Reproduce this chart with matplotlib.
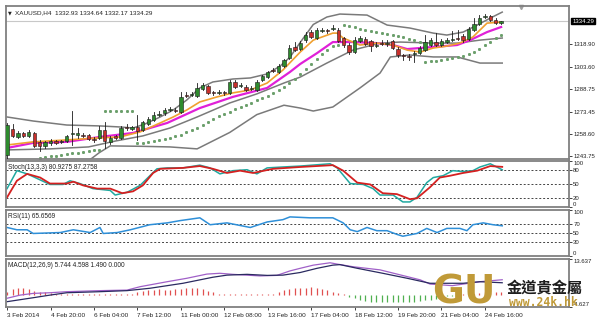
import matplotlib
matplotlib.use("Agg")
import matplotlib.pyplot as plt
from matplotlib.patches import Rectangle

# ---------------- data ----------------
opens = [1244.4, 1261.9, 1256.5, 1259.2, 1257.2, 1259.2, 1253.2, 1250.5, 1252.5, 1253.8,
         1253.2, 1253.8, 1258.6, 1257.9, 1257.9, 1257.9, 1255.2, 1255.9, 1261.2, 1253.2,
         1257.2, 1255.9, 1263.2, 1261.9, 1263.2, 1261.2, 1265.2, 1267.9, 1271.3, 1272.6,
         1274.6, 1274.6, 1273.3, 1284.7, 1284.7, 1284.0, 1288.7, 1290.7, 1286.7, 1286.1,
         1286.7, 1286.1, 1293.4, 1290.7, 1290.0, 1288.7, 1288.0, 1294.7, 1296.7, 1301.4,
         1300.1, 1304.1, 1309.5, 1316.9, 1315.5, 1321.5, 1326.9, 1322.9, 1327.6, 1328.3,
         1328.9, 1328.3, 1322.9, 1318.2, 1313.5, 1320.9, 1322.2, 1320.9, 1317.5, 1319.5,
         1318.9, 1320.9, 1315.5, 1311.5, 1310.8, 1312.2, 1312.8, 1314.8, 1318.2, 1320.2,
         1318.2, 1320.2, 1321.5, 1322.9, 1324.2, 1322.2, 1328.3, 1332.3, 1337.0, 1337.6,
         1335.0, 1332.93]
highs = [1265.9, 1265.2, 1260.5, 1259.9, 1261.2, 1259.9, 1254.5, 1253.8, 1255.2, 1254.5,
         1254.5, 1257.9, 1274.0, 1262.5, 1259.2, 1258.6, 1256.5, 1263.9, 1266.6, 1257.2,
         1257.9, 1263.9, 1265.2, 1263.9, 1271.3, 1267.2, 1269.9, 1273.3, 1274.0, 1276.0,
         1276.6, 1276.0, 1286.7, 1286.7, 1286.7, 1292.7, 1292.7, 1291.4, 1287.4, 1288.0,
         1287.4, 1294.7, 1294.7, 1292.7, 1291.4, 1290.7, 1294.7, 1298.1, 1300.8, 1302.8,
         1305.5, 1308.8, 1318.2, 1320.2, 1320.9, 1326.9, 1328.3, 1329.6, 1329.6, 1328.9,
         1331.6, 1329.6, 1323.6, 1319.5, 1323.6, 1324.2, 1323.6, 1321.5, 1320.2, 1321.5,
         1321.5, 1321.5, 1316.9, 1312.2, 1312.2, 1314.2, 1317.5, 1324.9, 1322.9, 1326.2,
         1322.2, 1322.9, 1327.6, 1328.3, 1325.6, 1330.3, 1336.3, 1338.3, 1339.0, 1338.3,
         1336.3, 1334.64]
lows = [1241.1, 1256.5, 1255.9, 1256.5, 1256.5, 1249.8, 1247.1, 1249.1, 1251.1, 1251.8,
        1252.5, 1253.2, 1251.1, 1255.9, 1256.5, 1254.5, 1253.2, 1255.2, 1249.1, 1251.8,
        1255.2, 1255.2, 1261.2, 1261.2, 1254.5, 1260.5, 1264.5, 1267.2, 1270.6, 1271.3,
        1274.0, 1273.3, 1272.6, 1283.4, 1284.0, 1283.4, 1288.0, 1285.4, 1284.7, 1285.4,
        1284.7, 1285.4, 1289.4, 1290.0, 1287.4, 1288.0, 1287.4, 1294.1, 1296.1, 1300.1,
        1299.4, 1303.4, 1308.8, 1314.2, 1314.8, 1320.2, 1322.9, 1322.2, 1326.9, 1326.2,
        1328.3, 1320.2, 1316.9, 1312.2, 1312.8, 1320.2, 1318.2, 1314.2, 1316.9, 1318.2,
        1317.5, 1315.5, 1310.2, 1308.1, 1308.1, 1306.8, 1312.2, 1314.2, 1317.5, 1317.5,
        1317.5, 1319.5, 1320.9, 1321.5, 1320.2, 1321.5, 1327.6, 1331.6, 1336.3, 1334.3,
        1332.3, 1332.17]
closes = [1264.5, 1257.2, 1259.2, 1257.2, 1259.9, 1250.5, 1250.5, 1253.2, 1253.8, 1252.5,
          1253.8, 1257.2, 1259.2, 1259.2, 1257.2, 1255.2, 1254.5, 1261.2, 1253.8, 1255.9,
          1255.9, 1262.5, 1262.5, 1263.2, 1260.5, 1266.6, 1268.6, 1271.3, 1271.9, 1274.6,
          1275.3, 1274.0, 1283.4, 1284.0, 1285.4, 1289.4, 1291.4, 1286.1, 1286.1, 1286.7,
          1286.1, 1293.4, 1290.0, 1291.4, 1288.0, 1289.4, 1293.4, 1297.4, 1300.1, 1300.8,
          1304.1, 1308.1, 1316.2, 1314.8, 1319.5, 1324.9, 1323.6, 1328.3, 1328.3, 1327.6,
          1329.6, 1320.9, 1318.2, 1313.5, 1321.5, 1322.9, 1318.9, 1317.5, 1318.2, 1318.9,
          1319.5, 1316.2, 1311.5, 1310.8, 1310.2, 1312.8, 1316.2, 1320.2, 1321.5, 1318.2,
          1320.9, 1321.5, 1322.2, 1322.2, 1321.5, 1328.9, 1332.3, 1336.3, 1337.6, 1335.0,
          1332.9, 1334.29]

# moving averages (bar index, price)
ema_x = [0, 4.8, 11, 17.1, 20.8, 24.5, 28.2, 30.6, 33.1, 35.5, 38.7, 41.6, 44.8, 47.9, 50.8,
         54, 56.4, 60, 60.8, 61.9, 65, 68.1, 71.1, 73.7, 76.1, 78.5, 81, 83.4, 85.8, 88.4, 91]
ema_y = [1251.1, 1253.2, 1254.5, 1255.9, 1256.5, 1259.9, 1265.9, 1269.9, 1274.6, 1280.0,
         1283.4, 1286.1, 1288.0, 1292.7, 1301.4, 1313.5, 1321.5, 1326.2, 1326.2, 1322.9,
         1318.2, 1319.5, 1318.2, 1314.8, 1313.5, 1316.2, 1317.5, 1319.5, 1323.6, 1332.9, 1333.6]
sma_x = [0, 4.8, 11, 17.1, 23.2, 29.5, 35.5, 41.6, 47.9, 52.1, 54, 57.1, 60, 63.7, 68.1,
         71.1, 73.7, 76.1, 78.5, 82.9, 85.3, 88.4, 91]
sma_y = [1249.1, 1252.5, 1253.2, 1256.5, 1259.2, 1265.9, 1275.9, 1283.4, 1289.4, 1300.1,
         1305.5, 1312.8, 1320.2, 1320.2, 1319.5, 1318.2, 1315.5, 1316.2, 1316.9, 1318.2,
         1321.5, 1326.9, 1330.3]

# Bollinger bands (bar index, price)
bbu_x = [0, 4.8, 11, 17.1, 20.8, 23.2, 25.4, 28.2, 30.6, 33.1, 35.5, 37.9, 41.6, 44.8, 47.9,
         50.3, 52.1, 54, 56.4, 58.9, 61.3, 66.3, 70, 74.2, 78.5, 81, 84, 86.6, 89, 91.2]
bbu_y = [1269.9, 1267.2, 1264.5, 1263.9, 1263.2, 1262.5, 1265.2, 1269.9, 1274.6, 1281.3,
         1289.4, 1293.4, 1295.4, 1296.1, 1298.8, 1304.1, 1310.0, 1320.0, 1332.0, 1337.0,
         1339.0, 1338.3, 1331.6, 1329.6, 1326.2, 1324.9, 1326.9, 1331.6, 1336.3, 1340.3]
bbm_x = [0, 8, 15, 20, 25, 30, 35, 41, 46, 51, 54, 58.9, 63.7, 68.7, 72.4, 78.5, 82.9,
         87.1, 91.2]
bbm_y = [1247.8, 1248.5, 1249.8, 1253.8, 1257.2, 1262.5, 1269.9, 1279.3, 1285.4, 1292.7,
         1296.7, 1306.1, 1314.8, 1319.5, 1320.2, 1319.5, 1319.5, 1321.5, 1322.9]
bbl_x = [15, 17, 19, 25, 30, 35, 41, 46, 51, 54, 56.4, 60, 65, 68.7, 70.6, 74.2, 78.5,
         82.9, 87.1, 91.2]
bbl_y = [1240.5, 1246.0, 1250.5, 1250.2, 1249.8, 1248.5, 1259.5, 1271.5, 1277.8, 1275.9,
         1273.9, 1276.6, 1289.4, 1299.4, 1310.2, 1311.5, 1310.2, 1310.2, 1306.1, 1306.1]

# Parabolic SAR dots (bar index, price)
sar_x = list(range(6, 92))
sar_y = [1242.5, 1243.0, 1243.5, 1244.0, 1244.5, 1245.0, 1245.5, 1246.0, 1246.5, 1247.0,
         1247.5, 1248.0,
         1274.0, 1274.0, 1274.0, 1274.0, 1274.0, 1274.0,
         1252.5, 1252.5, 1253.0, 1253.5, 1254.2, 1255.0, 1256.0, 1257.0, 1258.0, 1259.5,
         1261.0, 1262.5, 1264.5, 1266.5, 1268.5, 1270.5, 1272.0, 1273.5, 1275.0, 1276.5,
         1278.0, 1279.5, 1281.0, 1282.5, 1284.0, 1286.0, 1288.0, 1290.0, 1292.5, 1295.5,
         1298.5, 1302.0, 1305.5, 1309.0, 1312.0, 1315.0, 1317.5, 1318.5,
         1331.6, 1331.0, 1330.0, 1329.0, 1328.2, 1327.4, 1326.8, 1326.2, 1325.5, 1324.9,
         1324.3, 1323.5, 1322.5, 1321.5, 1320.5,
         1306.8, 1307.3, 1307.8, 1308.3, 1308.9, 1309.5, 1310.2, 1311.0, 1312.0, 1313.5,
         1315.5, 1318.0, 1320.5, 1323.0, 1325.0]

# Stochastic (bar index, value)
stk_x = [0, 1.8, 3.7, 7.9, 10.3, 11.6, 13.4, 15.8, 19, 19.9, 22.1, 24.5, 26.3, 27.6, 29.5,
         32.4, 35.5, 37.4, 39.2, 41.6, 44.2, 46, 47.9, 50.8, 54, 59.5, 60.8, 63.2, 65.6, 67.4,
         68.7, 71.1, 72.9, 74.2, 75.5, 77.3, 78.5, 80.3, 82.1, 84, 85.8, 87.1, 89, 91.2]
stk_y = [40, 79, 72, 49, 49, 57, 51, 40, 36, 26, 32, 47, 68, 83, 85, 85, 91, 85, 72, 79,
         81, 72, 85, 87, 89, 94, 85, 51, 49, 40, 26, 26, 11, 11, 21, 53, 64, 68, 79, 77,
         79, 87, 94, 80.93]
std_x = [0, 1.8, 3.7, 6.1, 7.9, 11, 12.2, 14, 16.6, 19, 21.2, 23.2, 25, 26.9, 28.2, 32.4,
         35.5, 37.9, 40.5, 42.9, 45.3, 49, 54, 60, 61.9, 64.5, 66.9, 69.2, 71.8, 74.2, 75.5,
         77.9, 79.7, 81.6, 84, 86.6, 89, 91.2]
std_y = [21, 57, 72, 64, 51, 51, 55, 47, 40, 40, 30, 34, 47, 74, 83, 85, 89, 83, 74, 79,
         74, 83, 87, 91, 79, 53, 49, 30, 28, 17, 19, 43, 64, 68, 74, 79, 89, 87.28]

# RSI (bar index, value)
rsi_x = [0, 1.8, 3.7, 4.8, 9.8, 12.2, 15.3, 17.1, 17.7, 20.3, 22.7, 26.3, 29.5, 31.9, 35.5,
         37.4, 40.5, 44.8, 47.9, 50.8, 52.1, 54, 55.8, 60, 61.9, 63.2, 64.5, 66.3, 68.1, 70,
         71.8, 72.9, 75.5, 77.3, 79.2, 81, 83.4, 84.7, 85.8, 87.7, 89.5, 91.2]
rsi_y = [62, 57, 57, 49, 51, 57, 51, 62, 49, 51, 57, 68, 72, 77, 83, 68, 72, 62, 74, 79,
         85, 84, 83, 83, 72, 57, 53, 62, 55, 55, 47, 43, 49, 60, 51, 60, 60, 55, 68, 72,
         68, 65.66]

# MACD (bar index, value)
macd_x = [0, 2.4, 4.8, 7.9, 11, 17.1, 22.1, 24.5, 29.5, 33.1, 36.8, 39.2, 41.6, 46.6, 49.7,
          52.1, 54, 56.4, 59.5, 60.8, 63.7, 68.7, 72.4, 76.1, 77.9, 82, 87.1, 91.2]
macd_y = [-1.3, -0.1, 0.55, 0.8, 1.2, 1.6, 1.8, 3.1, 5.0, 6.3, 7.9, 8.2, 7.8, 7.2, 7.4,
          9.1, 10.1, 11.3, 12.2, 11.7, 10.7, 9.5, 7.6, 5.7, 4.1, 3.5, 5.0, 5.744]
sig_x = [0, 4.8, 7.9, 11, 17.1, 22.1, 26.3, 32.4, 37.9, 40.5, 44.2, 47.9, 50.8, 54, 57.1,
         60, 61.3, 64.5, 69.2, 73.7, 77.9, 84, 87.1, 91.2]
sig_y = [-2.6, -1.1, -0.1, 0.8, 1.2, 1.6, 2.5, 4.4, 6.7, 7.5, 7.8, 7.4, 7.5, 8.5, 10.1,
         11.3, 11.5, 10.1, 8.2, 6.3, 4.4, 4.4, 5.0, 4.598]
hist = [1.2, 2.2, 2.7, 2.5, 2.2, 1.6, 1.2, 0.9, 0.8, 0.3, 0.3, 0.3, 0.3, 0.3, 0.3, 0.2,
        0.2, 0.2, 0.2, 0.2, 0.2, 0.3, 0.3, 0.5, 1.2, 1.5, 1.8, 2.0, 2.2, 2.0, 1.8, 2.2,
        2.4, 2.5, 2.6, 2.7, 2.2, 1.6, 0.9, 0.3, 0.2, 0.2, 0.2, 0.2, 0.2, 0.2, 0.2, 0.2,
        0.3, 0.5, 1.2, 1.8, 2.2, 2.5, 2.5, 2.7, 2.8, 2.7, 2.2, 1.8, 1.2, 0.55, 0.2, -0.8,
        -1.3, -2.0, -2.5, -2.8, -2.9, -2.9, -2.9, -2.9, -2.9, -2.9, -2.7, -2.6, -2.4, -2.0,
        -1.8, -1.5, -1.0, -0.6, -0.3, 0.1, 0.2, 0.3, 0.4, 0.55, 1.2, 1.2, 0.9, 0.9]

x_tick_pos = [0, 8, 16, 24, 32, 40, 48, 56, 64, 72, 80, 88]
x_tick_lbl = ["3 Feb 2014", "4 Feb 20:00", "6 Feb 04:00", "7 Feb 12:00", "11 Feb 00:00",
              "12 Feb 08:00", "13 Feb 16:00", "17 Feb 04:00", "18 Feb 12:00",
              "19 Feb 20:00", "21 Feb 04:00", "24 Feb 16:00"]
price_ticks = [1318.90, 1303.60, 1288.75, 1273.45, 1258.60, 1243.75]
last_price = 1334.29

# ---------------- figure ----------------
W, H = 600, 323
fig = plt.figure(figsize=(6.0, 3.23), dpi=100)
FONT = "Liberation Sans"
plt.rcParams["font.family"] = [FONT, "DejaVu Sans"]
GRID = "#808080"


def panel(x0, y0, x1, y1):
    a = fig.add_axes([x0 / W, 1 - y1 / H, (x1 - x0) / W, (y1 - y0) / H])
    a.set_xlim(-0.2, 103.5)
    for s in a.spines.values():
        s.set_color(GRID)
        s.set_linewidth(1.3)
    a.set_xticks([])
    a.yaxis.tick_right()
    a.tick_params(axis="y", length=2, width=0.6, pad=1, labelsize=4.3, colors="#222222")
    return a


ax = panel(6, 6, 569, 159)
axs = panel(6, 161, 569, 207)
axr = panel(6, 210, 569, 256)
axm = panel(6, 259, 569, 307)

# ---- main price panel ----
ax.set_ylim(1241.7, 1344.4)
ax.axhline(last_price, color="#c8c8c8", lw=0.8, zorder=1)
ax.plot(bbu_x, bbu_y, color="#7a7a7a", lw=1.1, zorder=2)
ax.plot(bbm_x, bbm_y, color="#7a7a7a", lw=1.1, zorder=2)
ax.plot(bbl_x, bbl_y, color="#7a7a7a", lw=1.1, zorder=2)
ax.plot(sar_x, sar_y, ls="none", marker="s", ms=1.1, color="#6a9f6a", zorder=2)
ax.plot(sma_x, sma_y, color="#e020d8", lw=1.6, zorder=3)
ax.plot(ema_x, ema_y, color="#f0a030", lw=1.2, zorder=3)
w = 0.62
for i, (o, h, l, c) in enumerate(zip(opens, highs, lows, closes)):
    ax.plot([i, i], [l, h], color="#1a1a1a", lw=0.6, zorder=4)
    col = "#2e8b2e" if c >= o else "#c8302c"
    lo, hi = min(o, c), max(o, c)
    ax.add_patch(Rectangle((i - w / 2, lo), w, max(hi - lo, 0.35), facecolor=col,
                           edgecolor="#1a1a1a", lw=0.4, zorder=5))
ax.set_yticks(price_ticks)
ax.set_yticklabels([f"{v:.2f}" for v in price_ticks])
ax.text(1.006, (last_price - 1241.7) / (1344.4 - 1241.7), f"{last_price:.2f}",
        transform=ax.transAxes, fontsize=4.3, color="white", va="center", ha="left",
        bbox=dict(boxstyle="square,pad=0.15", fc="black", ec="black"))
ax.plot([94.6], [1344.0], marker="v", ms=3, color="#a0a0a0", clip_on=False)
ax.text(0.004, 0.955, "\u25bc", transform=ax.transAxes, fontsize=3.5, va="center",
        family="DejaVu Sans", color="#222222")
ax.text(0.016, 0.955, "XAUUSD,H4  1332.93 1334.64 1332.17 1334.29", transform=ax.transAxes,
        fontsize=4.6, va="center", color="#222222")

# ---- stochastic ----
axs.set_ylim(0, 100)
for lv in (80, 50, 20):
    axs.axhline(lv, color="#444444", lw=0.7, ls=(0, (2, 2)))
axs.plot(stk_x, stk_y, color="#20a8a0", lw=1.1)
axs.plot(std_x, std_y, color="#d42020", lw=1.3)
axs.set_yticks([100, 80, 50, 20, 0])
axs.set_yticklabels(["100", "80", "50", "20", "0"])
labs = axs.get_yticklabels()
labs[0].set_va("top"); labs[4].set_va("bottom")
axs.text(0.004, 0.86, "Stoch(13,3,3) 80.9275 87.2758", transform=axs.transAxes,
         fontsize=4.7, va="center", color="#222222")

# ---- RSI ----
axr.set_ylim(0, 100)
for lv in (70, 50, 30):
    axr.axhline(lv, color="#444444", lw=0.7, ls=(0, (2, 2)))
axr.plot(rsi_x, rsi_y, color="#2e8fd8", lw=1.1)
axr.set_yticks([100, 70, 50, 30, 0])
axr.set_yticklabels(["100", "70", "50", "30", "0"])
labs = axr.get_yticklabels()
labs[0].set_va("top"); labs[4].set_va("bottom")
axr.text(0.004, 0.86, "RSI(11) 65.6569", transform=axr.transAxes,
         fontsize=4.7, va="center", color="#222222")

# ---- MACD ----
axm.set_ylim(-4.627, 13.637)
bar_idx = list(range(len(hist)))
axm.vlines(bar_idx, 0, hist, colors=["#e05050" if v >= 0 else "#50b050" for v in hist], lw=0.9)
axm.plot(macd_x, macd_y, color="#a060c8", lw=0.9)
axm.plot(sig_x, sig_y, color="#2a2a60", lw=0.9)
axm.set_yticks([13.637, -4.627])
axm.set_yticklabels(["13.637", "-4.627"])
labs = axm.get_yticklabels()
labs[0].set_va("top"); labs[1].set_va("bottom")
axm.text(0.004, 0.86, "MACD(12,26,9) 5.744 4.598 1.490 0.000", transform=axm.transAxes,
         fontsize=4.7, va="center", color="#222222")
axm.set_xticks(x_tick_pos)
axm.set_xticklabels(x_tick_lbl, ha="left")
axm.tick_params(axis="x", length=2.5, width=0.6, pad=1.5, labelsize=4.6, colors="#222222")

# ---- logo ----
fig.text(464 / W, 1 - 293 / H, "GU", fontsize=28, fontweight="heavy", color="#c09a38",
         ha="center", va="center", family="DejaVu Sans")
fig.text(545 / W, 1 - 288 / H, "金道貴金屬", fontsize=11, fontweight="bold",
         color="#1e1e1e", ha="center", va="center", family=["Noto Sans CJK TC", "DejaVu Sans"])
fig.text(543 / W, 1 - 303 / H, "www.24k.hk", fontsize=8.3, fontweight="bold",
         color="#c09a38", ha="center", va="center", family="DejaVu Sans Mono")

fig.savefig("out.png", dpi=100, facecolor="white")
